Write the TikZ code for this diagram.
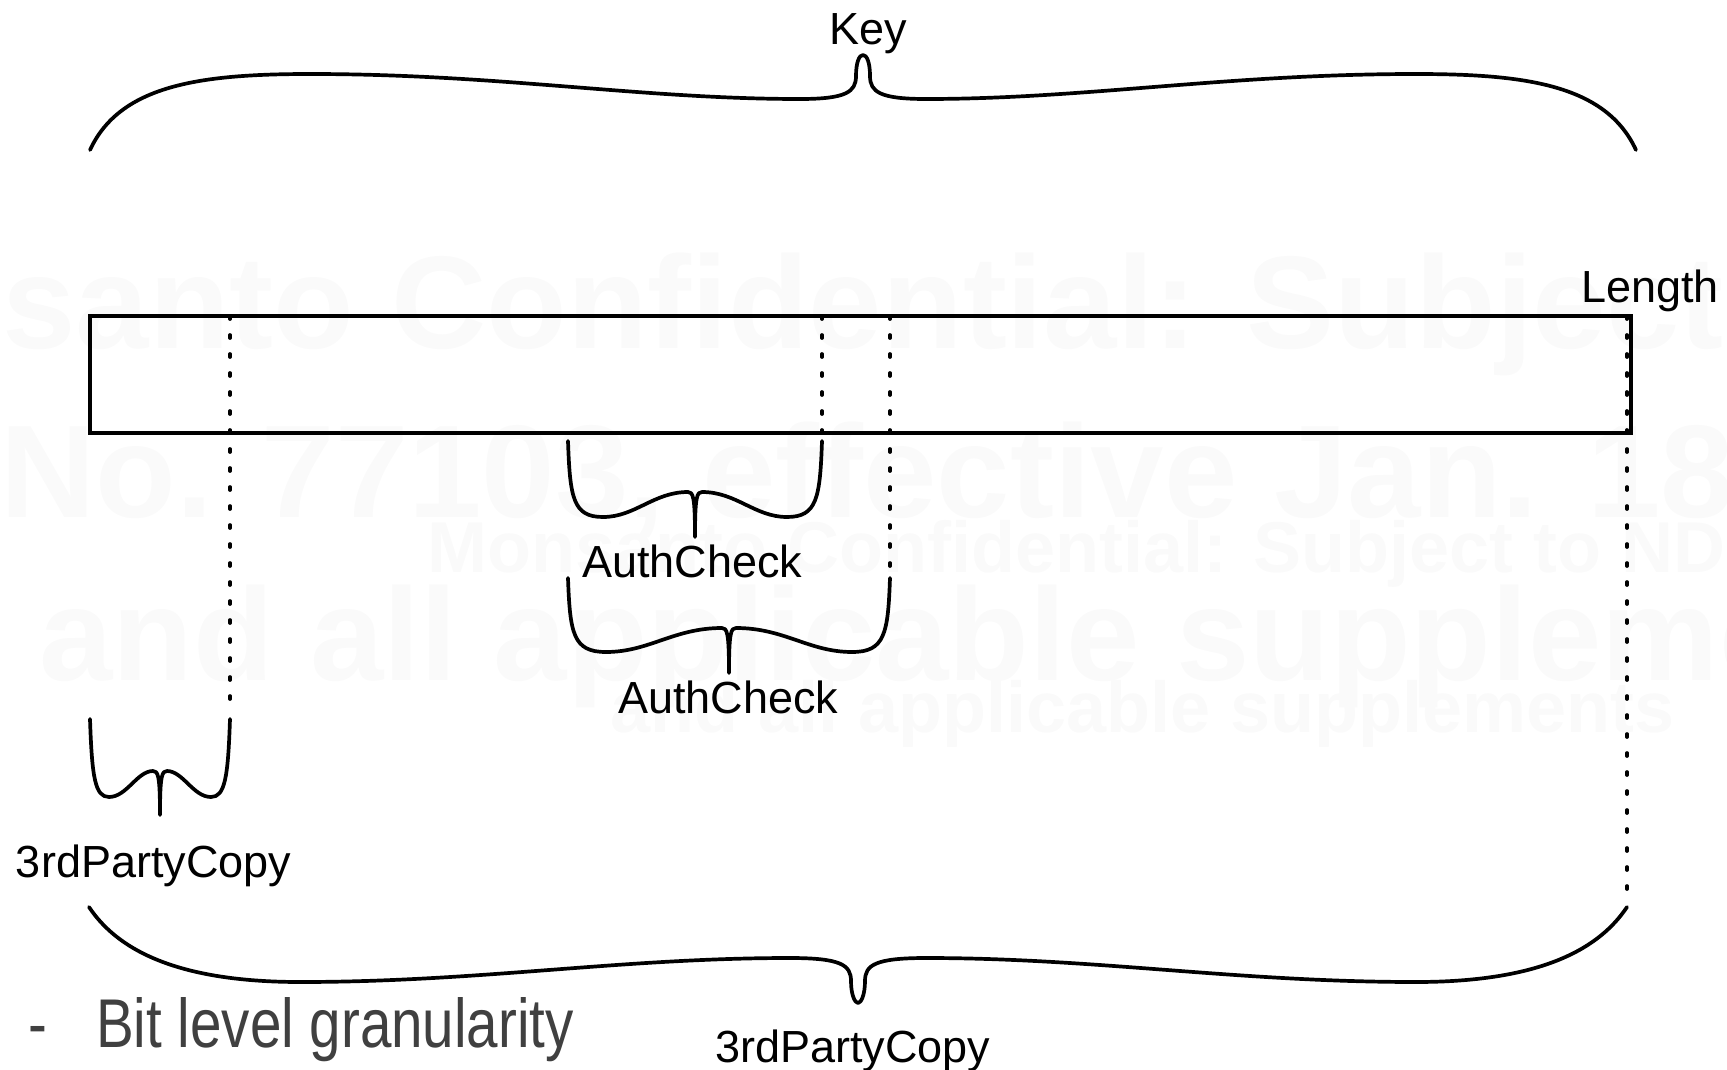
\documentclass[tikz,border=0pt]{standalone}
\usepackage{fontspec}
\usepackage{graphicx}
\setmainfont{Liberation Sans}

\definecolor{inkgray}{RGB}{64,64,64}
\definecolor{stampgray}{RGB}{250,250,250}

\tikzset{
  pen/.style={line width=3.7pt, line cap=round, line join=round},
  barbox/.style={draw, line width=4pt, minimum width=1541pt, minimum height=117pt,
    inner sep=0pt, outer sep=0pt},
  guide/.style={line width=3.7pt, line cap=round, dash pattern=on 3pt off 16pt},
  lbl/.style={inner sep=0pt, outer sep=0pt, anchor=base west,
    font=\fontsize{45}{54}\selectfont},
  bullettext/.style={inner sep=0pt, outer sep=0pt, anchor=base west, text=inkgray,
    font=\fontsize{69}{80}\selectfont},
  stampbig/.style={inner sep=0pt, anchor=base west, text=stampgray,
    font=\fontsize{132}{140}\selectfont\bfseries},
  stampsmall/.style={inner sep=0pt, anchor=base west, text=stampgray,
    font=\fontsize{72}{80}\selectfont\bfseries},
}

% A small curly brace opening upwards: ends at the top, point at the bottom.
% #1 left x, #2 right x, #3 end y, #4 trough y, #5 shoulder y, #6 tip y, #7 trough inset
\newcommand\smallbrace[7]{%
  \pgfmathsetmacro\bxC{(#1+#2)/2}%
  \pgfmathsetmacro\bxA{#1+#7}%
  \pgfmathsetmacro\bxB{#2-#7}%
  \pgfmathsetmacro\bySide{#3+0.75*(#4-#3)}%
  \draw[pen] (#1,#3) .. controls ({#1+2},\bySide) and ({#1+5},#4) .. (\bxA,#4)
    .. controls ({\bxA+0.35*(\bxC-\bxA)},#4) and ({\bxC-0.45*(\bxC-\bxA)},#5) .. ({\bxC-7},#5)
    .. controls ({\bxC-2},#5) and (\bxC,{#5+4}) .. (\bxC,#6)
    .. controls (\bxC,{#5+4}) and ({\bxC+2},#5) .. ({\bxC+7},#5)
    .. controls ({\bxC+0.45*(\bxB-\bxC)},#5) and ({\bxB-0.35*(\bxB-\bxC)},#4) .. (\bxB,#4)
    .. controls ({#2-5},#4) and ({#2-2},\bySide) .. (#2,#3);
}

\begin{document}
\begin{tikzpicture}[x=1pt,y=-1pt]
\useasboundingbox (0,0) rectangle (1727,1070);

% faint confidentiality stamp in the background
\begin{scope}
  \clip (0,0) rectangle (1727,1070);
  \node[stampbig] (stampA) at (-269,348) {Monsanto Confidential: Subject to NDA};
  \node[stampbig] (stampB) at (0,517) {No. 77103, effective Jan. 18};
  \node[stampbig] (stampC) at (39,680) {and all applicable supplements};
  \node[stampsmall] (stampD) at (427,572) {Monsanto Confidential: Subject to NDA};
  \node[stampsmall] (stampE) at (610,732) {and all applicable supplements};
\end{scope}

% the key as one long field
\node[barbox] (bar) at (860.5,374.5) {};

% boundaries of the sub-fields
\draw[guide] (230,316) -- (230,712);
\draw[guide] (822,316) -- (822,433);
\draw[guide] (890,316) -- (890,570);
\draw[guide] (1627,316) -- (1627,898);

% brace over the whole key
\draw[pen] (90,150) .. controls (120,85) and (200,74) .. (310,74)
  .. controls (500,74) and (640,99) .. (800,99)
  .. controls (846,99) and (856,92) .. (856,76)
  .. controls (856,63) and (859,55) .. (863,55)
  .. controls (867,55) and (870,63) .. (870,76)
  .. controls (870,92) and (880,99) .. (926,99)
  .. controls (1086,99) and (1226,74) .. (1416,74)
  .. controls (1526,74) and (1606,85) .. (1636,150);
\node[lbl] (key) at (829,45) {Key};

\node[lbl] (length) at (1581,302) {Length};

% field braces
\smallbrace{568}{822}{441}{517}{492}{537}{35}
\node[lbl] (auth1) at (582,577) {AuthCheck};

\smallbrace{568}{890}{578}{652}{628}{673}{38}
\node[lbl] (auth2) at (618,713) {AuthCheck};

\smallbrace{90}{230}{719}{797}{771}{815}{19}
\node[lbl] (tpcA) at (16,877) {3rdPartyCopy};

% brace under the whole key
\draw[pen] (89,907) .. controls (115,946) and (170,982) .. (300,982)
  .. controls (480,982) and (620,958) .. (790,958)
  .. controls (841,958) and (851,965) .. (851,981)
  .. controls (851,995) and (855,1003) .. (858,1003)
  .. controls (861,1003) and (865,995) .. (865,981)
  .. controls (865,965) and (875,958) .. (926,958)
  .. controls (1096,958) and (1236,982) .. (1416,982)
  .. controls (1546,982) and (1601,946) .. (1627,907);
\node[lbl] (tpcB) at (715,1062) {3rdPartyCopy};

% bullet note
\node[bullettext] (dash) at (28,1047) {\scalebox{0.82}[1]{-}};
\node[bullettext] (bitlevel) at (96,1047) {\scalebox{0.82}[1]{Bit level granularity}};
\end{tikzpicture}
\end{document}
